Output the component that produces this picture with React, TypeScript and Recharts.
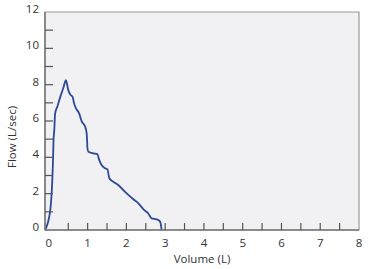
import React from 'react';
import { LineChart, Line, XAxis, YAxis, ReferenceArea } from 'recharts';

const volume = [-0.1, 0.03, 0.11, 0.12, 0.14, 0.16, 0.22, 0.29, 0.37, 0.44, 0.5, 0.56, 0.61, 0.65, 0.7, 0.78, 0.85, 0.93, 0.975, 0.985, 0.995, 1.02, 1.15, 1.25, 1.3, 1.36, 1.45, 1.51, 1.56, 1.66, 1.79, 1.92, 2.05, 2.18, 2.31, 2.44, 2.56, 2.65, 2.78, 2.87, 2.91];
const flow = [0, 1.0, 4.07, 4.95, 5.5, 6.4, 6.8, 7.3, 7.8, 8.25, 7.7, 7.43, 7.34, 6.97, 6.7, 6.42, 5.96, 5.72, 5.32, 4.95, 4.5, 4.31, 4.22, 4.18, 3.85, 3.58, 3.4, 3.34, 2.85, 2.66, 2.48, 2.2, 1.93, 1.69, 1.47, 1.14, 0.92, 0.64, 0.59, 0.46, 0];
const xTicks = [0, 0.5, 1, 1.5, 2, 2.5, 3, 3.5, 4, 4.5, 5, 5.5, 6, 6.5, 7, 7.5, 8];
const yTicks = [0, 1, 2, 3, 4, 5, 6, 7, 8, 9, 10, 11, 12];

const data = volume.map((v, i) => ({ v, f: flow[i] }));

const FONT = '"Open Sans", sans-serif';
const TICK_COLOR = '#555';
const TEXT_COLOR = '#333';

const YTick = (props: any) => {
  const { x, y, payload } = props;
  const val = payload.value;
  const major = val % 2 === 0;
  return (
    <g>
      {val !== 12 && val !== 0 && (
        <line x1={x + 6} x2={x + 14} y1={y} y2={y} stroke={TICK_COLOR} strokeWidth={1.2} />
      )}
      {major && (
        <text x={x} y={y - 2} textAnchor="end" dominantBaseline="middle" fontSize={11.5} fill={TEXT_COLOR} fontFamily={FONT}>
          {val}
        </text>
      )}
    </g>
  );
};

const XTick = (props: any) => {
  const { x, y, payload } = props;
  const val = payload.value;
  const major = Number.isInteger(val);
  return (
    <g>
      {val !== 0 && val !== 8 && (
        <line x1={x} x2={x} y1={y - 7} y2={y - 14} stroke={TICK_COLOR} strokeWidth={1.2} />
      )}
      {major && (
        <text x={x} y={y} textAnchor="middle" dominantBaseline="hanging" fontSize={11.5} fill={TEXT_COLOR} fontFamily={FONT}>
          {val}
        </text>
      )}
    </g>
  );
};

export default function App() {
  return (
    <div style={{ position: 'absolute', left: 0, top: 0, width: 375, height: 269, background: '#fff' }}>
      <LineChart width={375} height={269} data={data} margin={{ top: 12, right: 16, left: 0, bottom: 0 }}>
        <ReferenceArea x1={-0.1} x2={8} y1={0} y2={12} fill="#f1f1f3" fillOpacity={1} stroke="#9a9a9a" strokeWidth={1.2} ifOverflow="visible" />
        <XAxis
          dataKey="v"
          type="number"
          domain={[-0.1, 8]}
          ticks={xTicks}
          interval={0}
          tickLine={false}
          tickSize={0}
          tickMargin={7}
          axisLine={{ stroke: '#777', strokeWidth: 1.5 }}
          height={39}
          tick={<XTick />}
          label={{ value: 'Volume (L)', position: 'insideBottom', offset: 6, fontSize: 11.5, fill: TEXT_COLOR, fontFamily: FONT }}
        />
        <YAxis
          type="number"
          domain={[0, 12]}
          ticks={yTicks}
          interval={0}
          tickLine={false}
          tickSize={0}
          tickMargin={6}
          axisLine={{ stroke: '#777', strokeWidth: 1.5 }}
          width={45}
          tick={<YTick />}
          label={{
            content: () => (
              <text x={13} y={137} transform="rotate(-90 13 137)" textAnchor="middle" dominantBaseline="middle" fontSize={11.5} fill={TEXT_COLOR} fontFamily={FONT}>
                Flow (L/sec)
              </text>
            ),
          }}
        />
        <Line type="monotone" dataKey="f" stroke="#2d4896" strokeWidth={1.8} dot={false} isAnimationActive={false} />
      </LineChart>
    </div>
  );
}
